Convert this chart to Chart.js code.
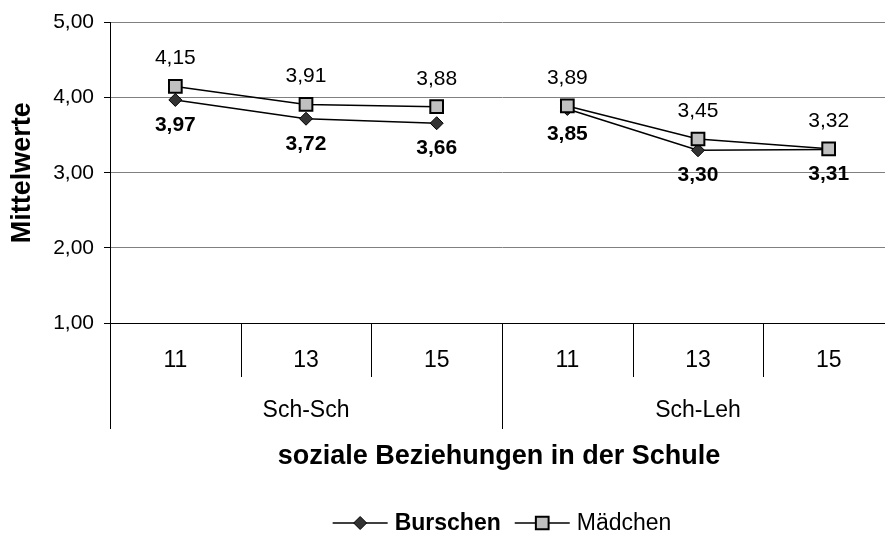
<!DOCTYPE html>
<html>
<head>
<meta charset="utf-8">
<script src="https://cdn.jsdelivr.net/npm/chart.js@4.4.1/dist/chart.umd.min.js"></script>
<style>
  html, body { margin: 0; padding: 0; background: #fff; }
  #wrap { width: 885px; height: 536px; overflow: hidden; }
  canvas { display: block; }
</style>
</head>
<body>
<div id="wrap"><canvas id="mw" width="905" height="536"></canvas></div>
<script>
// Alter (Jahre) je Beziehungsbereich
const categories = ['11', '13', '15', '11', '13', '15'];
const groups = ['Sch-Sch', 'Sch-Leh'];
const groupSize = 3;

// Mittelwerte
const burschen = [3.97, 3.72, 3.66, 3.85, 3.30, 3.31];
const maedchen = [4.15, 3.91, 3.88, 3.89, 3.45, 3.32];

const yTicks = [1, 2, 3, 4, 5];

const FONT = '"Liberation Sans", Arial, sans-serif';
const fmt = v => v.toFixed(2).replace('.', ',');

// keine Verbindung zwischen den beiden Gruppen
const segmentColor = ctx =>
  (ctx.p1DataIndex % groupSize === 0) ? 'transparent' : '#000';

// Werte an den Punkten
const valueLabels = {
  id: 'valueLabels',
  afterDatasetsDraw(chart) {
    const ctx = chart.ctx;
    ctx.save();
    ctx.textAlign = 'center';
    ctx.textBaseline = 'middle';
    ctx.fillStyle = '#000';
    chart.data.datasets.forEach((ds, di) => {
      const meta = chart.getDatasetMeta(di);
      const below = ds.label === 'Burschen';
      ctx.font = (below ? 'bold ' : '') + '21px ' + FONT;
      meta.data.forEach((pt, i) => {
        ctx.fillText(fmt(ds.data[i]), pt.x, pt.y + (below ? 25 : -28));
      });
    });
    ctx.restore();
  }
};

// Kategorienachse mit zweiter Ebene, Achsentitel und Legende
const axisExtras = {
  id: 'axisExtras',
  afterDraw(chart) {
    const ctx = chart.ctx;
    const xs = chart.scales.x;
    const area = chart.chartArea;
    const bottom = area.bottom;
    const step = xs.getPixelForValue(1) - xs.getPixelForValue(0);
    ctx.save();
    ctx.strokeStyle = '#000';
    ctx.lineWidth = 1;
    // Trennlinien
    for (let i = 0; i <= categories.length; i++) {
      const x = Math.round(xs.getPixelForValue(i) - step / 2) + 0.5;
      const long = i % groupSize === 0;
      ctx.beginPath();
      ctx.moveTo(x, bottom);
      ctx.lineTo(x, bottom + (long ? 106 : 54));
      ctx.stroke();
    }
    // Gruppenbeschriftung
    ctx.fillStyle = '#000';
    ctx.textAlign = 'center';
    ctx.textBaseline = 'middle';
    ctx.font = '23px ' + FONT;
    groups.forEach((g, gi) => {
      const a = xs.getPixelForValue(gi * groupSize);
      const b = xs.getPixelForValue(gi * groupSize + groupSize - 1);
      ctx.fillText(g, (a + b) / 2, bottom + 88);
    });
    // Achsentitel
    const cx = (area.left + area.right) / 2;
    ctx.font = 'bold 27px ' + FONT;
    ctx.fillText('soziale Beziehungen in der Schule', cx - 3, bottom + 134);

    // Legende
    const ly = bottom + 200;
    const items = chart.data.datasets.slice().sort((p, q) => p.legendIndex - q.legendIndex);
    const lineW = 55, gap = 7, between = 14;
    const widths = items.map(ds => {
      ctx.font = (ds.label === 'Burschen' ? 'bold ' : '') + '23px ' + FONT;
      return lineW + gap + ctx.measureText(ds.label).width;
    });
    const total = widths.reduce((s, w) => s + w, 0) + between * (items.length - 1);
    let x = cx - total / 2;
    items.forEach((ds, k) => {
      ctx.strokeStyle = '#000';
      ctx.lineWidth = 1.5;
      ctx.beginPath();
      ctx.moveTo(x, ly);
      ctx.lineTo(x + lineW, ly);
      ctx.stroke();
      ctx.fillStyle = ds.pointBackgroundColor;
      ctx.strokeStyle = '#000';
      ctx.lineWidth = ds.pointBorderWidth;
      Chart.helpers.drawPoint(ctx, {
        pointStyle: ds.pointStyle,
        radius: ds.pointRadius,
        borderWidth: ds.pointBorderWidth
      }, x + lineW / 2, ly);
      ctx.fillStyle = '#000';
      ctx.textAlign = 'left';
      ctx.font = (ds.label === 'Burschen' ? 'bold ' : '') + '23px ' + FONT;
      ctx.fillText(ds.label, x + lineW + gap, ly + 1);
      x += widths[k] + between;
    });
    ctx.restore();
  }
};

new Chart(document.getElementById('mw'), {
  type: 'line',
  data: {
    labels: categories,
    datasets: [
      {
        label: 'Mädchen',
        data: maedchen,
        legendIndex: 1,
        order: 0,
        borderColor: '#000',
        borderWidth: 1.5,
        pointStyle: 'rect',
        pointRadius: 9,
        pointBackgroundColor: '#c0c0c0',
        pointBorderColor: '#000',
        pointBorderWidth: 2,
        segment: { borderColor: segmentColor },
        tension: 0
      },
      {
        label: 'Burschen',
        data: burschen,
        legendIndex: 0,
        order: 1,
        borderColor: '#000',
        borderWidth: 1.5,
        pointStyle: 'rectRot',
        pointRadius: 6.5,
        pointBackgroundColor: '#333333',
        pointBorderColor: '#000',
        pointBorderWidth: 1,
        segment: { borderColor: segmentColor },
        tension: 0
      }
    ]
  },
  options: {
    responsive: false,
    animation: false,
    devicePixelRatio: 1,
    layout: { padding: { top: 21, left: 0, right: 3, bottom: 0 } },
    plugins: {
      legend: { display: false },
      tooltip: { enabled: false }
    },
    scales: {
      x: {
        offset: true,
        grid: { display: false },
        border: { display: true, color: '#000', width: 1 },
        ticks: {
          color: '#000',
          padding: 16,
          maxRotation: 0,
          font: { family: FONT, size: 23 }
        },
        afterFit: s => { s.height = 213; }
      },
      y: {
        min: 1,
        max: 5,
        afterBuildTicks: s => { s.ticks = yTicks.map(v => ({ value: v })); },
        grid: { color: '#808080', tickColor: '#000', tickLength: 6 },
        border: { display: true, color: '#000', width: 1 },
        ticks: {
          color: '#000',
          padding: 10,
          font: { family: FONT, size: 21 },
          callback: v => fmt(v)
        },
        title: {
          display: true,
          text: 'Mittelwerte',
          color: '#000',
          padding: { top: 6, bottom: 0 },
          font: { family: FONT, size: 27, weight: 'bold' }
        },
        afterFit: s => { s.width = 110; }
      }
    }
  },
  plugins: [valueLabels, axisExtras]
});
</script>
</body>
</html>
